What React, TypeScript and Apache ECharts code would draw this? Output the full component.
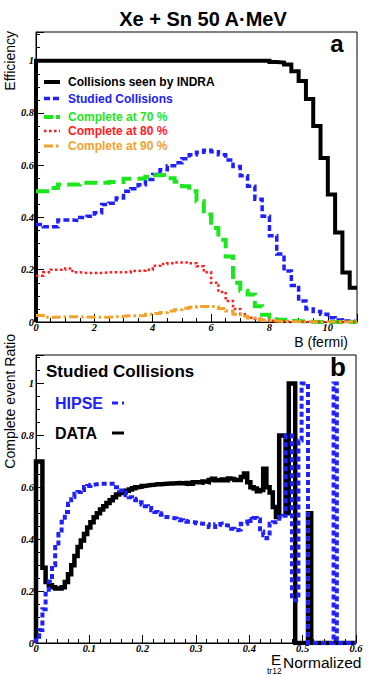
import React, { useEffect, useRef } from 'react';
import * as echarts from 'echarts';

// ---------- Panel a : efficiency vs impact parameter (bins of 0.25 fm, 0..11 fm)
const bBinWidth = 0.25;
const seenByIndra = [
  1, 1, 1, 1, 1, 1, 1, 1, 1, 1, 1, 1, 1, 1, 1, 1,
  1, 1, 1, 1, 1, 1, 1, 1, 1, 1, 1, 1, 1, 1, 1, 1,
  0.995, 0.993, 0.986, 0.96, 0.922, 0.854, 0.75, 0.628, 0.488, 0.343, 0.189, 0.131,
];
const studiedCollisions = [
  0.373, 0.365, 0.365, 0.39, 0.39, 0.388, 0.4, 0.405, 0.418, 0.45, 0.455, 0.475,
  0.5, 0.51, 0.525, 0.545, 0.565, 0.583, 0.598, 0.61, 0.625, 0.64, 0.65, 0.657,
  0.652, 0.64, 0.62, 0.595, 0.56, 0.52, 0.47, 0.405, 0.33, 0.26, 0.195, 0.14,
  0.08, 0.05, 0.04, 0.03, 0.016, 0.008, 0.004, 0.002,
];
const complete70 = [
  0.5, 0.5, 0.513, 0.526, 0.526, 0.526, 0.533, 0.533, 0.533, 0.533, 0.536, 0.536,
  0.548, 0.548, 0.55, 0.556, 0.562, 0.564, 0.55, 0.537, 0.52, 0.5, 0.462, 0.411,
  0.36, 0.315, 0.251, 0.15, 0.12, 0.105, 0.06, 0.028, 0.02, 0.009, 0.009, 0.004,
  0.002, 0.001, 0, 0, 0, 0, 0, 0,
];
const complete80 = [
  0.177, 0.19, 0.2, 0.2, 0.205, 0.19, 0.188, 0.188, 0.188, 0.19, 0.19, 0.19,
  0.19, 0.195, 0.197, 0.2, 0.215, 0.222, 0.225, 0.228, 0.228, 0.225, 0.213, 0.19,
  0.15, 0.115, 0.08, 0.05, 0.03, 0.016, 0.012, 0.008, 0.005, 0.003, 0.002, 0.001,
  0, 0, 0, 0, 0, 0, 0, 0,
];
const complete90 = [
  0.025, 0.018, 0.018, 0.02, 0.02, 0.02, 0.019, 0.018, 0.018, 0.018, 0.02, 0.022,
  0.024, 0.024, 0.025, 0.03, 0.033, 0.036, 0.042, 0.047, 0.053, 0.056, 0.059, 0.06,
  0.058, 0.052, 0.042, 0.03, 0.022, 0.015, 0.01, 0.006, 0.004, 0.002, 0.002, 0.001,
  0.001, 0, 0, 0, 0, 0, 0, 0,
];

// ---------- Panel b : complete event ratio vs normalized Etr12 (bins of 0.006, 0..0.6)
const eBinWidth = 0.006;
const dataRatio = [
  0.7, 0.7, 0.29, 0.235, 0.223, 0.215, 0.21, 0.21, 0.215, 0.235,
  0.265, 0.3, 0.335, 0.37, 0.395, 0.42, 0.445, 0.465, 0.485, 0.5,
  0.515, 0.527, 0.54, 0.55, 0.562, 0.572, 0.578, 0.583, 0.587, 0.592,
  0.596, 0.6, 0.602, 0.605, 0.607, 0.609, 0.61, 0.612, 0.612, 0.613,
  0.614, 0.615, 0.615, 0.616, 0.617, 0.616, 0.614, 0.617, 0.614, 0.62,
  0.62, 0.618, 0.622, 0.62, 0.628, 0.633, 0.627, 0.627, 0.63, 0.627,
  0.634, 0.632, 0.628, 0.628, 0.64, 0.653, 0.62, 0.6, 0.595, 0.585,
  0.59, 0.672, 0.6, 0.58, 0.524, 0.486, 0.8, 0.8, 0.5, 1.0,
  1.0, 0, 0, 0, 0, 0.5, 0, 0, 0, 0,
  0, 0, 0, 0, 0, 0, 0, 0, 0, 0,
];
const hipseRatio = [
  0.024, 0.05, 0.13, 0.19, 0.236, 0.3, 0.37, 0.42, 0.467, 0.505,
  0.537, 0.563, 0.575, 0.582, 0.59, 0.601, 0.605, 0.61, 0.612, 0.614,
  0.614, 0.614, 0.614, 0.614, 0.614, 0.6, 0.588, 0.58, 0.569, 0.562,
  0.556, 0.55, 0.542, 0.534, 0.527, 0.52, 0.512, 0.505, 0.5, 0.494,
  0.486, 0.484, 0.482, 0.48, 0.476, 0.473, 0.47, 0.467, 0.467, 0.465,
  0.462, 0.46, 0.46, 0.458, 0.447, 0.447, 0.458, 0.46, 0.455, 0.453,
  0.453, 0.44, 0.435, 0.437, 0.46, 0.46, 0.478, 0.47, 0.482, 0.476,
  0.43, 0.415, 0.404, 0.46, 0.465, 0.467, 0.486, 0.49, 0.8, 0.8,
  0.165, 0.165, 0.78, 1.0, 1.0, 0, 0, 0, 0, 0,
  0, 0, 0, 1.0, 0, 0, 0, 0, 0, 0,
];

const BLACK = '#000000';
const BLUE = '#2020ff';
const GREEN = '#1ee61e';
const RED = '#ff1c1c';
const ORANGE = '#f2a12a';

const SANS = '"Liberation Sans", Arial, Helvetica, sans-serif';
const SERIF = '"Liberation Serif", "Times New Roman", serif';

function histPoints(values: number[], width: number, fromZero: boolean) {
  const pts: number[][] = [];
  if (fromZero) pts.push([0, 0]);
  values.forEach((v, i) => pts.push([+(i * width).toFixed(4), v]));
  pts.push([+(values.length * width).toFixed(4), values[values.length - 1]]);
  return pts;
}

function histSeries(name: string, values: number[], width: number, idx: number, color: string, lw: number, dash: any, fromZero = false) {
  return {
    name,
    type: 'line',
    step: 'end',
    xAxisIndex: idx,
    yAxisIndex: idx,
    data: histPoints(values, width, fromZero),
    showSymbol: false,
    symbol: 'none',
    clip: true,
    lineStyle: { color, width: lw, type: dash, cap: 'butt', join: 'miter' },
    silent: true,
  };
}

const tickLabel = {
  color: '#000',
  fontFamily: SERIF,
  fontStyle: 'italic',
  fontWeight: 'bold',
  fontSize: 10.5,
};

function valueAxis(gridIndex: number, min: number, max: number, interval: number, minorSplit: number, isX: boolean, showMax: boolean) {
  return {
    type: 'value',
    gridIndex,
    min,
    max,
    interval,
    axisLine: { show: true, onZero: false, lineStyle: { color: '#000', width: 1 } },
    axisTick: { show: true, inside: true, length: 8, lineStyle: { color: '#000', width: 1 } },
    minorTick: { show: true, splitNumber: minorSplit, length: 4, lineStyle: { color: '#000', width: 1 } },
    splitLine: { show: false },
    axisLabel: { ...tickLabel, margin: isX ? 0 : 2, showMaxLabel: showMax, showMinLabel: true },
  };
}

function legendLine(x1: number, x2: number, y: number, color: string, lw: number, dash?: number[]) {
  return {
    type: 'line',
    shape: { x1, y1: y, x2, y2: y },
    style: { stroke: color, lineWidth: lw, lineDash: dash || null },
    silent: true,
  };
}

function label(text: string, x: number, y: number, color: string, size: number, weight = 'bold', align = 'left') {
  return {
    type: 'text',
    x,
    y,
    silent: true,
    style: { text, fill: color, font: `${weight} ${size}px ${SANS}`, textAlign: align, textVerticalAlign: 'middle' },
  };
}

export default function App() {
  const ref = useRef<HTMLDivElement>(null);

  useEffect(() => {
    if (!ref.current) return;
    const chart = echarts.init(ref.current, undefined, { renderer: 'svg' });
    const option: any = {
      animation: false,
      backgroundColor: '#ffffff',
      grid: [
        { left: 36, top: 32, width: 321, height: 290, show: true, borderColor: '#000', borderWidth: 1, backgroundColor: 'transparent' },
        { left: 36, top: 355, width: 320, height: 288, show: true, borderColor: '#000', borderWidth: 1, backgroundColor: 'transparent' },
      ],
      xAxis: [
        valueAxis(0, 0, 11, 2, 4, true, false),
        valueAxis(1, 0, 0.6, 0.1, 5, true, true),
      ],
      yAxis: [
        valueAxis(0, 0, 1.11, 0.2, 4, false, false),
        valueAxis(1, 0, 1.11, 0.2, 4, false, false),
      ],
      series: [
        histSeries('Collisions seen by INDRA', seenByIndra, bBinWidth, 0, BLACK, 4, 'solid', true),
        histSeries('Studied Collisions', studiedCollisions, bBinWidth, 0, BLUE, 3.5, [6, 3]),
        histSeries('Complete at 70 %', complete70, bBinWidth, 0, GREEN, 4, [13, 6]),
        histSeries('Complete at 80 %', complete80, bBinWidth, 0, RED, 2.5, [2.5, 2.5]),
        histSeries('Complete at 90 %', complete90, bBinWidth, 0, ORANGE, 3, [9, 3, 2.5, 3]),
        histSeries('DATA', dataRatio, eBinWidth, 1, BLACK, 4.5, 'solid', true),
        histSeries('HIPSE', hipseRatio, eBinWidth, 1, BLUE, 4, [5, 3], true),
      ],
      graphic: [
        // title
        label('Xe + Sn 50 A·MeV', 203, 19, '#000', 20, 'bold', 'center'),
        // panel letters
        label('a', 337, 43, '#000', 24, 'bold', 'center'),
        label('b', 338, 367, '#000', 26, 'bold', 'center'),
        // y titles
        {
          type: 'text', x: 10, y: 31, rotation: Math.PI / 2, silent: true,
          style: { text: 'Efficiency', fill: '#000', font: `normal 14px ${SANS}`, textAlign: 'right', textVerticalAlign: 'middle' },
        },
        {
          type: 'text', x: 10, y: 334, rotation: Math.PI / 2, silent: true,
          style: { text: 'Complete event Ratio', fill: '#000', font: `normal 14px ${SANS}`, textAlign: 'right', textVerticalAlign: 'middle' },
        },
        // x titles
        label('B (fermi)', 348, 342, '#000', 14, 'normal', 'right'),
        label('E', 271, 659, '#000', 15, 'normal', 'left'),
        label('tr12', 267, 671, '#000', 8.5, 'normal', 'left'),
        label('Normalized', 283, 662, '#000', 15.5, 'normal', 'left'),
        // legend panel a
        legendLine(44, 60, 82, BLACK, 4),
        label('Collisions seen by INDRA', 68, 82, BLACK, 12),
        legendLine(44, 60, 98.5, BLUE, 3.5, [6, 3]),
        label('Studied Collisions', 68, 98.5, BLUE, 12),
        legendLine(44, 60, 117, GREEN, 4, [9, 3]),
        label('Complete at 70 %', 68, 117, GREEN, 12),
        legendLine(44, 60, 131, RED, 2.5, [2.5, 2.5]),
        label('Complete at 80 %', 68, 131, RED, 12),
        legendLine(44, 60, 146, ORANGE, 3, [9, 3, 2.5, 3]),
        label('Complete at 90 %', 68, 146, ORANGE, 12),
        // legend panel b
        label('Studied Collisions', 46, 371, '#000', 17),
        label('HIPSE', 55, 403, BLUE, 16),
        legendLine(112, 124, 403, BLUE, 3, [6, 4, 2, 4]),
        label('DATA', 55, 433, BLACK, 16),
        legendLine(112, 124, 433, BLACK, 3),
      ],
    };
    chart.setOption(option);
    return () => chart.dispose();
  }, []);

  return (
    <div
      ref={ref}
      style={{ position: 'fixed', left: 0, top: 0, width: 370, height: 675, background: '#fff' }}
    />
  );
}
